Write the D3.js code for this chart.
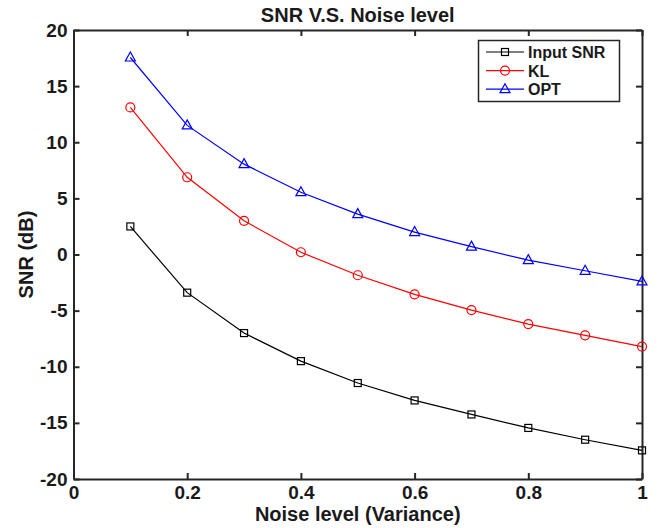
<!DOCTYPE html>
<html><head><meta charset="utf-8">
<script src="https://cdn.jsdelivr.net/npm/d3@7/dist/d3.min.js"></script>
<style>body{margin:0;background:#fff}svg{display:block}text{font-family:"Liberation Sans",Arial,sans-serif;font-weight:bold}</style>
</head><body><svg id="c" width="659" height="528"></svg>
<script>
const noise = [0.1,0.2,0.3,0.4,0.5,0.6,0.7,0.8,0.9,1.0];
const inputSNR = [2.5,-3.4,-7.0,-9.5,-11.45,-13.0,-14.25,-15.45,-16.5,-17.45];
const klSNR = [13.1,6.88,3.0,0.2,-1.85,-3.55,-4.95,-6.2,-7.2,-8.2];
const optSNR = [17.55,11.5,8.05,5.55,3.6,2.0,0.7,-0.5,-1.45,-2.4];
const xTicks = [0,0.2,0.4,0.6,0.8,1];
const xTickLabels = ["0","0.2","0.4","0.6","0.8","1"];
const yTicks = [-20,-15,-10,-5,0,5,10,15,20];
const yTickLabels = ["-20","-15","-10","-5","0","5","10","15","20"];
const seriesNames = ["Input SNR","KL","OPT"];
const seriesColors = ["#000000","#ff0000","#0000ff"];
const seriesMarkers = ["square","circle","triangle"];

const svg = d3.select("#c");
const L=73.5, R=642, T=30, B=479;
const x = d3.scaleLinear().domain([0,1]).range([L,R]);
const y = d3.scaleLinear().domain([-20,20]).range([B,T]);
const axCol="#262626";

const gx = svg.append("g").attr("transform",`translate(0,${B})`)
  .call(d3.axisBottom(x).tickValues(xTicks).tickFormat((d,i)=>xTickLabels[i]).tickSizeInner(-6).tickSizeOuter(0).tickPadding(7));
const gxt = svg.append("g").attr("transform",`translate(0,${T})`)
  .call(d3.axisTop(x).tickValues(xTicks).tickFormat("").tickSizeInner(-6).tickSizeOuter(0));
const gy = svg.append("g").attr("transform",`translate(${L},0)`)
  .call(d3.axisLeft(y).tickValues(yTicks).tickFormat((d,i)=>yTickLabels[i]).tickSizeInner(-6).tickSizeOuter(0).tickPadding(6));
const gyr = svg.append("g").attr("transform",`translate(${R},0)`)
  .call(d3.axisRight(y).tickValues(yTicks).tickFormat("").tickSizeInner(-6).tickSizeOuter(0));
[gx,gxt,gy,gyr].forEach(g=>{
  g.select(".domain").attr("stroke",axCol).attr("stroke-width",2);
  g.selectAll(".tick line").attr("stroke",axCol).attr("stroke-width",2);
  g.selectAll(".tick text").attr("fill","#1a1a1a").style("font-size","19px").style("font-family","'Liberation Sans',Arial,sans-serif").style("font-weight","bold");
});

const data=[inputSNR,klSNR,optSNR];
const line=d3.line().x((d,i)=>x(noise[i])).y(d=>y(d));
function marker(g,type,cx,cy,col){
  if(type==="square") g.append("rect").attr("x",cx-3.5).attr("y",cy-3.5).attr("width",7).attr("height",7).attr("fill","none").attr("stroke",col).attr("stroke-width",1.2);
  else if(type==="circle") g.append("circle").attr("cx",cx).attr("cy",cy).attr("r",4.5).attr("fill","none").attr("stroke",col).attr("stroke-width",1.2);
  else g.append("path").attr("d",`M${cx},${cy-5.5}L${cx+5},${cy+3.5}L${cx-5},${cy+3.5}Z`).attr("fill","none").attr("stroke",col).attr("stroke-width",1.2);
}
data.forEach((s,k)=>{
  const g=svg.append("g");
  g.append("path").attr("d",line(s)).attr("fill","none").attr("stroke",seriesColors[k]).attr("stroke-width",1.2);
  s.forEach((v,i)=>marker(g,seriesMarkers[k],x(noise[i]),y(v),seriesColors[k]));
});

svg.append("text").attr("x",(L+R)/2).attr("y",22).attr("text-anchor","middle").attr("fill","#1a1a1a").style("font-size","20px").text("SNR V.S. Noise level");
svg.append("text").attr("x",(L+R)/2).attr("y",521).attr("text-anchor","middle").attr("fill","#1a1a1a").style("font-size","20px").text("Noise level (Variance)");
svg.append("text").attr("transform",`translate(33,${(T+B)/2}) rotate(-90)`).attr("text-anchor","middle").attr("fill","#1a1a1a").style("font-size","20px").text("SNR (dB)");

const lg=svg.append("g");
lg.append("rect").attr("x",478.5).attr("y",40.5).attr("width",141).attr("height",61).attr("fill","#fff").attr("stroke",axCol).attr("stroke-width",1.5);
seriesNames.forEach((n,k)=>{
  const yy=52+k*18.6;
  lg.append("line").attr("x1",486).attr("x2",524).attr("y1",yy).attr("y2",yy).attr("stroke",seriesColors[k]).attr("stroke-width",1.2);
  marker(lg,seriesMarkers[k],505,yy,seriesColors[k]);
  lg.append("text").attr("x",528).attr("y",yy+6).attr("fill","#1a1a1a").style("font-size","16px").text(n);
});
</script></body></html>
